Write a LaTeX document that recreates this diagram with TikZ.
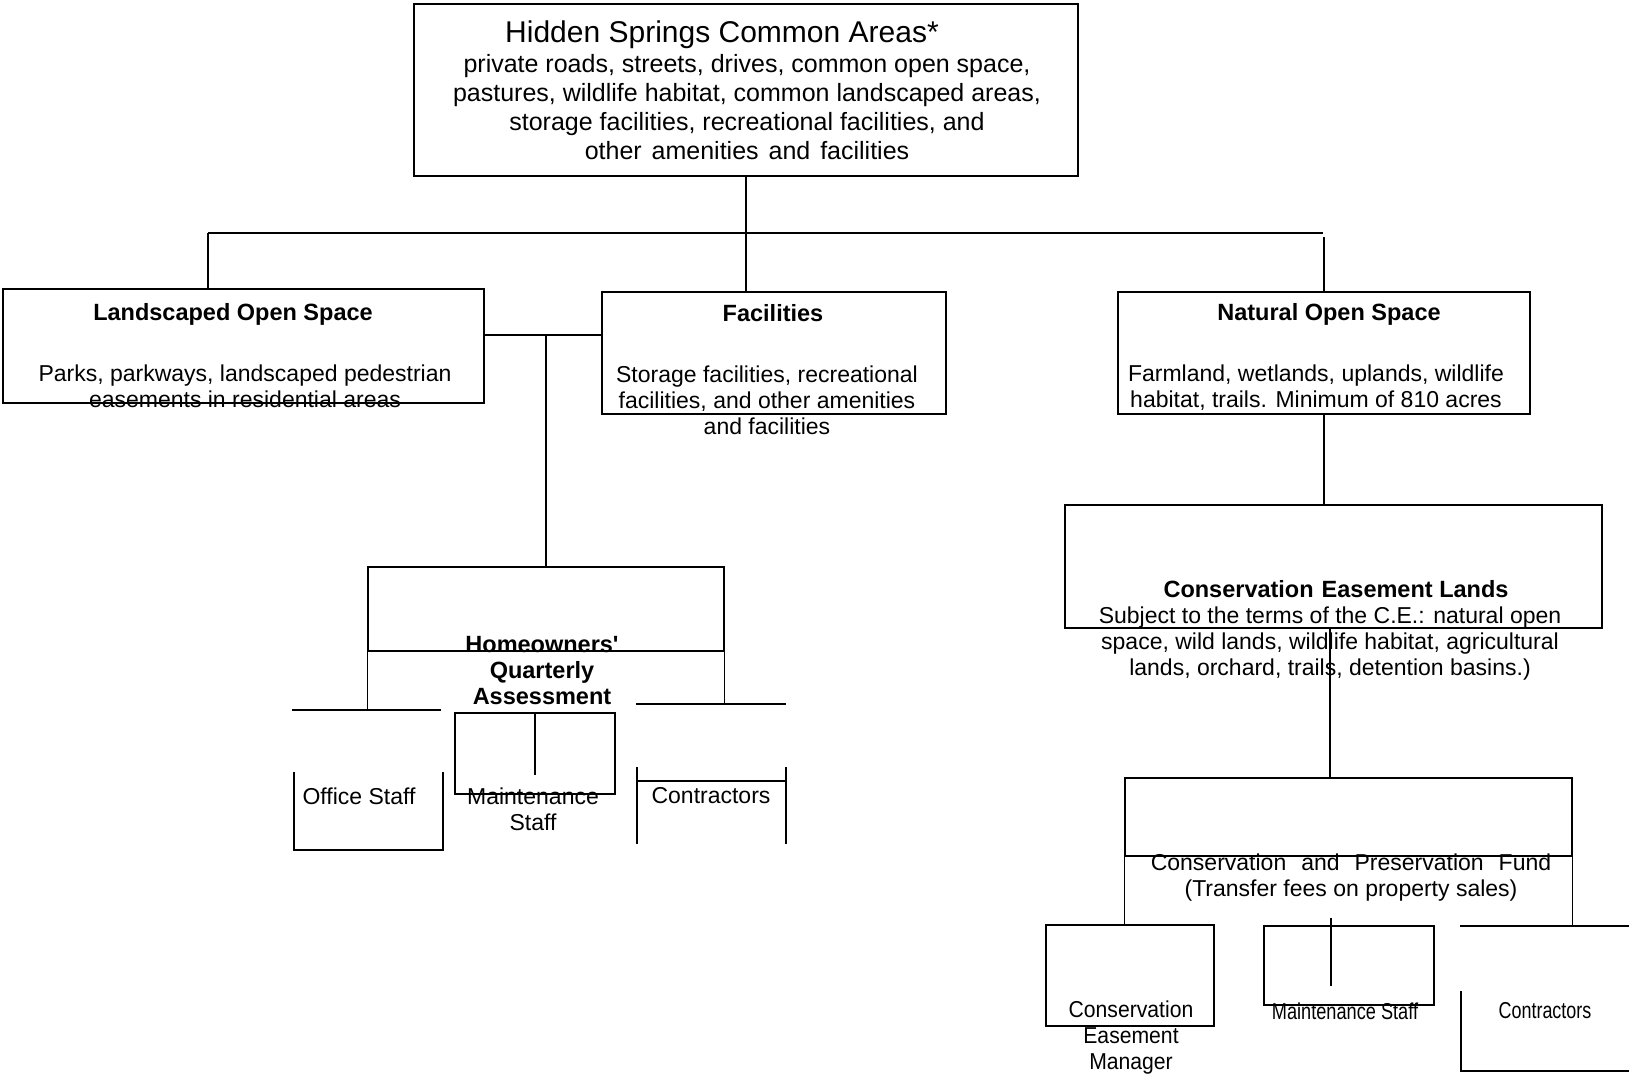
\documentclass[tikz,border=0pt]{standalone}
\usepackage{fontspec}
\setmainfont{Liberation Sans}
\usepackage{graphicx}
\usetikzlibrary{fit}
\begin{document}
\begin{tikzpicture}[x=1pt,y=-1pt,
  box/.style={draw, line width=1.4pt, inner sep=0pt},
  ln/.style={line width=1.4pt},
  txt/.style={inner sep=0pt, align=center, font=\fontsize{23}{26}\selectfont},
  btxt/.style={inner sep=0pt, align=center, font=\fontsize{23.5}{26}\selectfont\bfseries},
  ttl/.style={inner sep=0pt, align=center, font=\fontsize{30}{34}\selectfont},
  subt/.style={inner sep=0pt, align=center, font=\fontsize{25}{29}\selectfont}]
\useasboundingbox (0,0) rectangle (1630,1074);

% boxes
\node[box, fit={(414,4)(1078,176)}] (top) {};
\node[box, fit={(3,289)(484,403)}] (land) {};
\node[box, fit={(602,292)(946,414)}] (fac) {};
\node[box, fit={(1118,292)(1530,414)}] (nat) {};
\node[box, fit={(1065,505)(1602,628)}] (cel) {};
\node[box, fit={(368,567)(724,651)}] (hoa) {};
\node[box, fit={(455,713)(615,794)}] (mnt) {};
\node[box, fit={(1125,778)(1572,856)}] (cpf) {};
\node[box, fit={(1046,925)(1214,1026)}] (cem) {};
\node[box, fit={(1264,926)(1434,1005)}] (mnts) {};

% junction coordinates
\coordinate (barL) at (208,233);
\coordinate (barR) at (1323,233);
\coordinate (barRgap) at (1324,237);
\coordinate (jL) at (546,335);
\coordinate (offL) at (292,710);
\coordinate (offR) at (441,710);
\coordinate (conL) at (636,704);
\coordinate (conR) at (786,704);
\coordinate (v2) at (1330,628);
\coordinate (con2L) at (1460,926);
\coordinate (con2R) at (1629,926);

% connectors (left part)
\draw[ln] (top.south) -- (top.south |- fac.north);
\draw[ln] (barL) -- (barR);
\draw[ln] (barL) -- (barL |- land.north);
\draw[ln] (barRgap -| nat.north) -- (nat.north);
\draw[ln] (jL -| land.east) -- (jL -| fac.west);
\draw[ln] (jL) -- (hoa.north);
\draw[ln] (hoa.south west) -- (hoa.south west |- offL);
\draw[ln] (offL) -- (offR);
\draw[ln] (hoa.south east) -- (hoa.south east |- conL);
\draw[ln] (conL) -- (conR);
\draw[ln] (mnt.north) -- ++(0,63);
% office staff open box
\draw[ln] (294,772) -- (294,850) -- (443,850) -- (443,772);
% contractors open box
\draw[ln] (637,767) -- (637,844) (786,767) -- (786,844) (637,781) -- (786,781);

% connectors (right part)
\draw[ln] (nat.south) -- (nat.south |- cel.north);
\draw[ln] (v2) -- (v2 |- cpf.north);
\draw[ln] (cpf.south west) -- (cpf.south west |- cem.north);
\draw[ln] (cpf.south east) -- (cpf.south east |- con2L);
\draw[ln] (con2L) -- (con2R);
\draw[ln] (1331,918) -- (1331,986);
\draw[ln] (1461,991) -- (1461,1071) -- (1629,1071);

% texts
\node[ttl] (toptitle) at (722,35) {Hidden Springs Common Areas*};
\node[subt] (topsub) at (747,110.5) {\strut private roads, streets, drives, common open space,\\
  \strut pastures, wildlife habitat, common landscaped areas,\\
  \strut storage facilities, recreational facilities, and\\
  \strut other\hspace{3pt} amenities\hspace{3pt} and\hspace{3pt} facilities};

\node[btxt] (landT) at (233,314) {Landscaped Open Space};
\node[txt] (landB) at (245,389) {\strut Parks, parkways, landscaped pedestrian\\ \strut easements in residential areas};

\node[btxt] (facT) at (773,313) {Facilities};
\node[txt] (facB) at (767,403) {\strut Storage facilities, recreational\\ \strut facilities, and other amenities\\ \strut and facilities};

\node[btxt] (natT) at (1329,314) {Natural Open Space};
\node[txt] (natB) at (1316,389) {\strut Farmland, wetlands, uplands, wildlife\\ \strut habitat, trails. Minimum of 810 acres};

\node[btxt] (celT) at (1336,589) {Conservation\hspace{8pt}Easement Lands};
\node[txt] (celB) at (1330,644) {\strut Subject to the terms of the C.E.: natural open\\ \strut space, wild lands, wildlife habitat, agricultural\\ \strut lands, orchard, trails, detention basins.)};

\node[btxt] (hoaT) at (542,673) {\strut Homeowners\textquotesingle\\ \strut Quarterly\\ \strut Assessment};
\node[txt] (offT) at (359,796) {Office Staff};
\node[txt] (mntT) at (533,812) {\strut Maintenance\\ \strut Staff};
\node[txt] (conT) at (711,796) {Contractors};

\node[txt] (cpfT) at (1351,878) {\strut Conservation\hspace{15pt}and\hspace{15pt}Preservation\hspace{15pt}Fund\\ \strut (Transfer fees on property sales)};
\node[txt] (cemT) at (1131,1038) {\strut\scalebox{0.92}[1]{Conservation}\\ \strut\scalebox{0.92}[1]{Easement}\\ \strut\scalebox{0.92}[1]{Manager}};
\node[txt] (mntsT) at (1345,1011) {\scalebox{0.79}[1]{Maintenance Staff}};
\node[txt] (con2T) at (1545,1011) {\scalebox{0.78}[1]{Contractors}};
\end{tikzpicture}
\end{document}
